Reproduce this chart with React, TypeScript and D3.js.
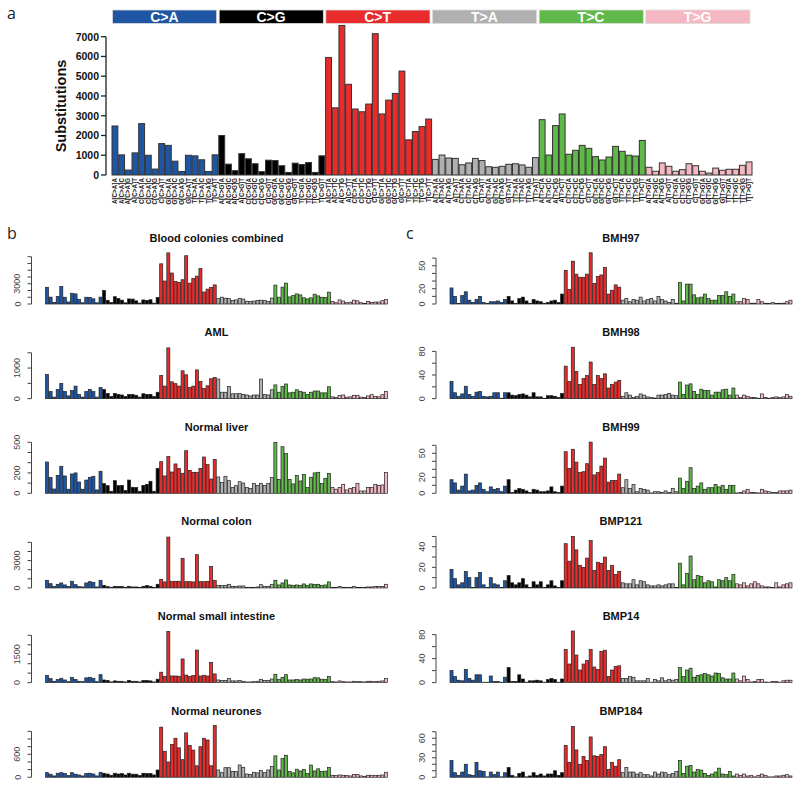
import React from 'react';
import * as d3 from 'd3';

const types = ['C>A', 'C>G', 'C>T', 'T>A', 'T>C', 'T>G'];
const typeColors = ['#1f56a3', '#000000', '#e92b2b', '#b0b0b0', '#5fb847', '#f5b7c2'];
const bases = ['A', 'C', 'G', 'T'];
const contexts = types.flatMap((t) => bases.flatMap((b5) => bases.map((b3) => `${b5}[${t}]${b3}`)));

// blood colonies combined (also panel a)
const bloodCombined = [
  2480, 1020, 250, 1120, 2600, 1000, 300, 1590, 1500, 700, 180, 1000, 970, 770, 180, 1020,
  2000, 550, 220, 1080, 820, 570, 170, 750, 730, 470, 130, 600, 530, 630, 130, 970,
  5950, 3400, 7570, 4590, 3340, 3200, 3590, 7150, 3090, 3790, 4130, 5260, 1780, 2200, 2450, 2830,
  790, 1010, 860, 840, 520, 610, 840, 730, 420, 390, 440, 540, 570, 510, 390, 880,
  2800, 1010, 2500, 3090, 1050, 1250, 1500, 1350, 930, 760, 910, 1450, 1200, 1000, 960, 1750,
  390, 190, 610, 440, 190, 270, 570, 470, 190, 100, 350, 240, 290, 290, 490, 660,
];
const aml = [
  790, 230, 50, 300, 500, 230, 90, 270, 410, 140, 50, 230, 300, 230, 50, 360,
  300, 170, 70, 170, 140, 120, 70, 140, 140, 110, 50, 160, 140, 140, 70, 210,
  760, 410, 1660, 550, 490, 410, 910, 780, 360, 410, 940, 560, 330, 420, 650, 690,
  640, 210, 210, 400, 160, 160, 170, 140, 120, 90, 120, 120, 640, 140, 120, 290,
  450, 210, 400, 480, 190, 210, 290, 240, 210, 140, 210, 250, 250, 190, 190, 390,
  60, 40, 100, 120, 50, 60, 110, 110, 50, 40, 90, 130, 70, 60, 130, 240,
];
const normalLiver = [
  307, 154, 42, 176, 265, 170, 40, 190, 200, 111, 40, 130, 157, 167, 33, 216,
  95, 75, 20, 124, 75, 78, 26, 130, 59, 56, 20, 78, 88, 118, 20, 245,
  310, 170, 360, 209, 288, 242, 196, 418, 225, 206, 206, 245, 356, 281, 140, 333,
  160, 105, 167, 124, 56, 75, 114, 101, 56, 46, 95, 78, 98, 78, 98, 154,
  500, 137, 457, 389, 137, 92, 176, 121, 183, 56, 157, 200, 206, 95, 147, 196,
  56, 40, 56, 88, 33, 49, 56, 95, 23, 23, 56, 56, 88, 78, 82, 203,
];
const normalColon = [
  840, 470, 150, 400, 550, 330, 150, 730, 360, 150, 110, 550, 690, 620, 110, 840,
  290, 150, 70, 180, 150, 150, 70, 180, 110, 110, 70, 180, 260, 180, 70, 400,
  950, 660, 5580, 730, 730, 730, 3250, 690, 690, 660, 3650, 690, 690, 730, 2340, 840,
  290, 260, 290, 400, 180, 180, 220, 220, 70, 70, 70, 110, 360, 180, 180, 400,
  840, 330, 550, 880, 330, 290, 330, 290, 440, 290, 440, 400, 400, 290, 330, 660,
  70, 70, 150, 70, 70, 70, 180, 70, 70, 70, 110, 110, 150, 150, 150, 400,
];
const normalSmallIntestine = [
  370, 210, 70, 160, 230, 140, 50, 280, 160, 70, 50, 250, 280, 230, 50, 420,
  140, 110, 35, 90, 70, 70, 35, 120, 70, 70, 35, 110, 110, 90, 35, 180,
  550, 320, 2710, 350, 350, 335, 1250, 400, 335, 370, 1720, 350, 390, 350, 1070, 460,
  140, 110, 120, 210, 90, 90, 120, 70, 35, 35, 50, 70, 160, 110, 110, 190,
  440, 160, 280, 420, 140, 140, 160, 140, 190, 180, 190, 260, 250, 180, 160, 320,
  50, 35, 90, 50, 35, 35, 70, 50, 50, 35, 70, 70, 50, 70, 90, 210,
];
const normalNeurones = [
  120, 80, 35, 105, 120, 95, 45, 120, 80, 60, 35, 95, 105, 85, 35, 130,
  105, 85, 52, 105, 85, 95, 60, 105, 80, 80, 45, 105, 95, 95, 60, 190,
  1310, 680, 400, 860, 1020, 770, 460, 1160, 830, 710, 300, 800, 1020, 975, 300, 1350,
  190, 120, 250, 250, 150, 150, 320, 260, 85, 70, 130, 115, 175, 120, 190, 280,
  560, 190, 490, 575, 150, 115, 210, 165, 200, 95, 320, 165, 220, 150, 160, 260,
  52, 45, 60, 52, 45, 35, 70, 70, 35, 25, 52, 52, 45, 52, 60, 130,
];
const bmh97 = [
  21, 10, 0, 11, 16, 5, 2, 6, 10, 2, 0, 3, 3, 4, 2, 6,
  10, 4, 0, 7, 9, 4, 1, 6, 4, 3, 1, 2, 4, 5, 2, 13,
  44, 19, 56, 39, 35, 35, 39, 67, 27, 36, 38, 48, 13, 18, 25, 22,
  5, 7, 3, 6, 5, 9, 4, 6, 7, 4, 10, 6, 4, 2, 6, 1,
  28, 4, 26, 26, 12, 8, 9, 13, 7, 5, 5, 11, 11, 16, 10, 13,
  3, 3, 7, 6, 1, 1, 6, 3, 1, 0, 2, 0, 1, 1, 3, 5,
];
const bmh98 = [
  29, 10, 4, 8, 21, 7, 4, 11, 12, 4, 3, 4, 10, 10, 0, 10,
  10, 6, 5, 7, 8, 6, 3, 10, 3, 3, 0, 5, 5, 4, 2, 9,
  55, 29, 87, 46, 24, 34, 39, 62, 24, 39, 34, 42, 18, 24, 28, 31,
  4, 10, 6, 2, 4, 8, 6, 3, 2, 1, 6, 6, 7, 9, 6, 5,
  28, 7, 23, 25, 12, 7, 16, 14, 14, 6, 11, 11, 15, 16, 6, 18,
  6, 2, 6, 4, 2, 2, 0, 8, 2, 0, 2, 3, 2, 3, 7, 4,
];
const bmh99 = [
  17, 13, 4, 9, 24, 3, 4, 10, 13, 5, 2, 8, 5, 6, 2, 9,
  17, 1, 4, 6, 5, 3, 1, 5, 4, 2, 2, 3, 8, 2, 1, 9,
  52, 31, 55, 39, 26, 27, 37, 64, 23, 26, 34, 44, 14, 16, 16, 24,
  7, 17, 6, 11, 2, 6, 5, 4, 0, 2, 2, 1, 3, 1, 6, 2,
  19, 6, 15, 32, 6, 9, 13, 5, 7, 7, 11, 8, 10, 5, 10, 10,
  0, 1, 3, 5, 1, 1, 0, 5, 3, 2, 1, 1, 3, 3, 3, 4,
];
const bmp121 = [
  18, 9, 3, 5, 16, 10, 0, 10, 15, 3, 0, 10, 4, 3, 0, 7,
  12, 5, 3, 5, 9, 3, 0, 6, 3, 6, 0, 3, 7, 2, 0, 7,
  43, 26, 50, 37, 22, 20, 29, 46, 17, 25, 24, 30, 17, 22, 13, 16,
  5, 4, 4, 8, 3, 7, 6, 3, 2, 2, 3, 2, 3, 4, 4, 0,
  24, 3, 14, 31, 8, 12, 11, 5, 7, 6, 1, 8, 7, 10, 7, 13,
  4, 3, 5, 2, 4, 6, 4, 2, 1, 1, 0, 5, 1, 3, 4, 5,
];
const bmp14 = [
  20, 10, 4, 3, 22, 7, 4, 13, 13, 0, 0, 11, 2, 2, 0, 9,
  25, 2, 2, 13, 6, 0, 3, 3, 4, 3, 0, 5, 7, 5, 0, 6,
  55, 31, 86, 46, 21, 31, 37, 55, 26, 22, 52, 54, 10, 21, 27, 28,
  7, 7, 10, 9, 3, 3, 3, 7, 0, 5, 3, 8, 3, 5, 4, 5,
  25, 10, 21, 24, 9, 12, 13, 15, 13, 11, 16, 15, 8, 6, 6, 16,
  6, 3, 11, 5, 1, 2, 5, 5, 1, 0, 2, 2, 0, 3, 4, 4,
];
const bmp184 = [
  26, 7, 3, 8, 20, 4, 3, 23, 10, 9, 0, 8, 4, 8, 0, 7,
  15, 3, 0, 6, 8, 0, 2, 7, 3, 5, 2, 5, 5, 10, 3, 7,
  49, 23, 78, 42, 20, 32, 26, 62, 33, 32, 35, 47, 12, 23, 17, 27,
  7, 15, 8, 8, 5, 7, 4, 4, 2, 8, 5, 8, 7, 4, 6, 9,
  26, 6, 17, 18, 8, 12, 11, 6, 3, 5, 8, 14, 5, 4, 9, 2,
  5, 3, 5, 2, 3, 0, 3, 5, 3, 0, 0, 2, 2, 3, 4, 2,
];

// small panels: title, values, ylim, tick step, top tick, labelled ticks
const leftPanels = [
  { title: 'Blood colonies combined', values: bloodCombined, ylim: 7700, step: 1000, top: 7000, labels: [0, 3000] },
  { title: 'AML', values: aml, ylim: 1700, step: 500, top: 1500, labels: [0, 1000] },
  { title: 'Normal liver', values: normalLiver, ylim: 510, step: 100, top: 500, labels: [0, 200, 500] },
  { title: 'Normal colon', values: normalColon, ylim: 5700, step: 1000, top: 5000, labels: [0, 3000] },
  { title: 'Normal small intestine', values: normalSmallIntestine, ylim: 2750, step: 500, top: 2500, labels: [0, 1500] },
  { title: 'Normal neurones', values: normalNeurones, ylim: 1360, step: 200, top: 1200, labels: [0, 600] },
];
const rightPanels = [
  { title: 'BMH97', values: bmh97, ylim: 68, step: 10, top: 60, labels: [0, 20, 50] },
  { title: 'BMH98', values: bmh98, ylim: 88, step: 20, top: 80, labels: [0, 40, 80] },
  { title: 'BMH99', values: bmh99, ylim: 65, step: 10, top: 60, labels: [0, 20, 50] },
  { title: 'BMP121', values: bmp121, ylim: 50.5, step: 10, top: 50, labels: [0, 20, 40] },
  { title: 'BMP14', values: bmp14, ylim: 86.7, step: 20, top: 80, labels: [0, 40, 80] },
  { title: 'BMP184', values: bmp184, ylim: 80, step: 10, top: 70, labels: [0, 30, 60] },
];
const topTicks = d3.range(0, 7001, 1000);

const FONT = '"Liberation Sans", Arial, sans-serif';
const colorOf = (i: number) => typeColors[Math.floor(i / 16)];

type Panel = (typeof leftPanels)[number];

const SmallPanel = ({ p, x0, base }: { p: Panel; x0: number; base: number }) => {
  const x = d3.scaleBand<number>().domain(d3.range(96)).range([x0 + 14, x0 + 356]).paddingInner(0.15);
  const y = d3.scaleLinear().domain([0, p.ylim]).range([base, base - 52]);
  const axisX = x0;
  const ticks = d3.range(0, p.top + p.step / 2, p.step);
  return (
    <g>
      <text x={x0 + 185} y={base - 62.5} textAnchor="middle" fontFamily={FONT} fontWeight="bold" fontSize={11} fill="#111">
        {p.title}
      </text>
      <line x1={axisX} x2={axisX} y1={y(0)} y2={y(p.top)} stroke="#444" strokeWidth={1} />
      {ticks.map((t) => (
        <line key={t} x1={axisX - 4} x2={axisX} y1={y(t)} y2={y(t)} stroke="#444" strokeWidth={1} />
      ))}
      {p.labels.map((t) => (
        <text key={t} x={axisX - 11} y={y(t)} transform={`rotate(-90, ${axisX - 11}, ${y(t)})`} textAnchor="middle"
          fontFamily={FONT} fontSize={9} fill="#444">
          {t}
        </text>
      ))}
      {p.values.map((v, i) => (
        <rect key={i} x={x(i)} y={Math.min(y(v), base - 0.4)} width={x.bandwidth()}
          height={Math.max(y(0) - y(v), 0.4)}
          fill={colorOf(i)} stroke="#222" strokeWidth={0.7} />
      ))}
    </g>
  );
};

const App = () => {
  const xTop = d3.scaleBand<number>().domain(d3.range(96)).range([112, 752]).paddingInner(0.12);
  const yTop = d3.scaleLinear().domain([0, 7000]).range([175, 36.7]);
  const groupW = 640 / 6;
  const baselines = d3.range(6).map((i) => 304 + i * 94.65);

  return (
    <svg width={800} height={788} style={{ position: 'absolute', left: 0, top: 0, background: '#fff' }}>
      <text x={7} y={19} fontFamily='"Open Sans", sans-serif' fontSize={16} fill="#222">a</text>
      <text x={7} y={239} fontFamily='"Open Sans", sans-serif' fontSize={16} fill="#222">b</text>
      <text x={406} y={239} fontFamily='"Open Sans", sans-serif' fontSize={16} fill="#222">c</text>

      {types.map((t, g) => (
        <g key={t}>
          <rect x={112 + g * groupW + 0.5} y={10} width={groupW - 2.5} height={13.5}
            fill={typeColors[g]} stroke="#ddd" strokeWidth={0.8} />
          <text x={112 + g * groupW + groupW / 2 - 1} y={22} textAnchor="middle" fontFamily={FONT}
            fontWeight="bold" fontSize={14} fill="#fff">
            {t}
          </text>
        </g>
      ))}

      <line x1={106} x2={106} y1={yTop(0)} y2={yTop(7000)} stroke="#222" strokeWidth={1.3} />
      {topTicks.map((t) => (
        <g key={t}>
          <line x1={101} x2={106} y1={yTop(t)} y2={yTop(t)} stroke="#222" strokeWidth={1.3} />
          <text x={99} y={yTop(t) + 3.8} textAnchor="end" fontFamily={FONT} fontWeight="bold" fontSize={10.5} fill="#111">
            {t}
          </text>
        </g>
      ))}
      <text x={66} y={106} transform="rotate(-90, 66, 106)" textAnchor="middle" fontFamily={FONT}
        fontWeight="bold" fontSize={14.5} fill="#111">
        Substitutions
      </text>

      {bloodCombined.map((v, i) => (
        <rect key={i} x={xTop(i)} y={yTop(v)} width={xTop.bandwidth()} height={yTop(0) - yTop(v)}
          fill={colorOf(i)} stroke="#333" strokeWidth={1} />
      ))}
      {contexts.map((c, i) => {
        const cx = (xTop(i) as number) + xTop.bandwidth() / 2 + 2.2;
        return (
          <text key={c} x={cx} y={178} transform={`rotate(-90, ${cx}, 178)`} textAnchor="end"
            fontFamily={FONT} fontWeight="bold" fontSize={6.3} fill="#222">
            {c}
          </text>
        );
      })}

      {leftPanels.map((p, i) => (
        <SmallPanel key={p.title} p={p} x0={31.5} base={baselines[i]} />
      ))}
      {rightPanels.map((p, i) => (
        <SmallPanel key={p.title} p={p} x0={436} base={baselines[i]} />
      ))}
    </svg>
  );
};

export default App;
